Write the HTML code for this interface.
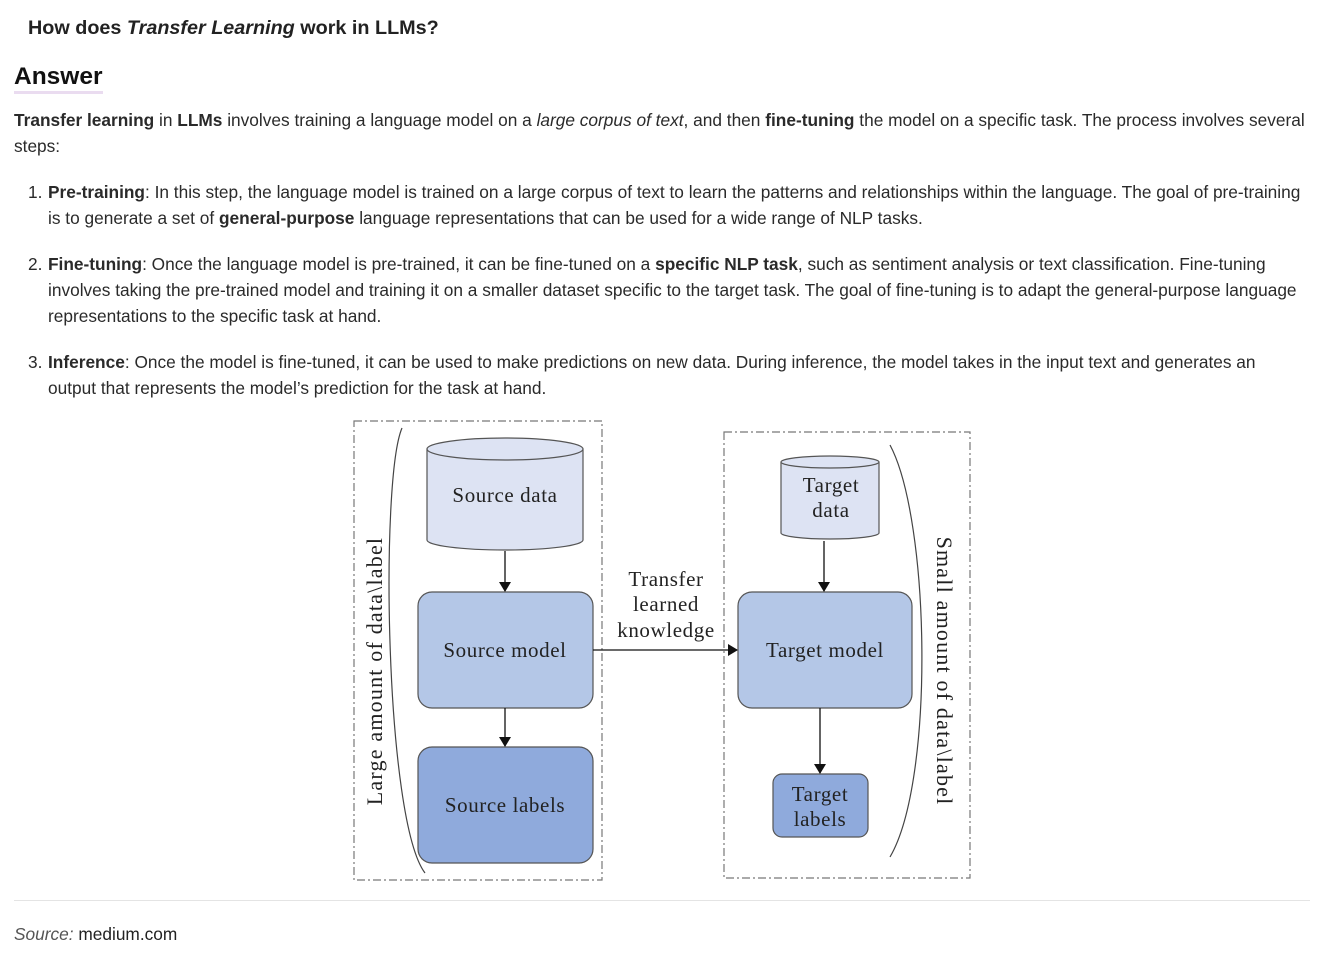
<!DOCTYPE html>
<html><head><meta charset="utf-8"><style>
body{margin:0;width:1332px;height:960px;background:#fff;font-family:"Liberation Sans",Arial,sans-serif;color:#222;position:relative;overflow:hidden}
.t{position:absolute;white-space:nowrap}
p{margin:0}
.body{font-size:17.3px;line-height:26px;color:#2a2a2a}
</style></head><body>
<div class="t" style="left:28px;top:17px;font-size:19.8px;font-weight:bold;color:#222">How does <i>Transfer Learning</i> work in LLMs?</div>
<div class="t" style="left:14px;top:63px;font-size:24.5px;font-weight:bold;color:#111;border-bottom:3px solid #eadcf0;line-height:28px">Answer</div>
<div class="t body" style="left:14px;top:107px"><b>Transfer learning</b> in <b>LLMs</b> involves training a language model on a <i>large corpus of text</i>, and then <b>fine-tuning</b> the model on a specific task. The process involves several<br>steps:</div>
<div class="t body" style="left:28px;top:179px">1.</div>
<div class="t body" style="left:48px;top:179px"><b>Pre-training</b>: In this step, the language model is trained on a large corpus of text to learn the patterns and relationships within the language. The goal of pre-training<br>is to generate a set of <b>general-purpose</b> language representations that can be used for a wide range of NLP tasks.</div>
<div class="t body" style="left:28px;top:251px">2.</div>
<div class="t body" style="left:48px;top:251px"><b>Fine-tuning</b>: Once the language model is pre-trained, it can be fine-tuned on a <b>specific NLP task</b>, such as sentiment analysis or text classification. Fine-tuning<br>involves taking the pre-trained model and training it on a smaller dataset specific to the target task. The goal of fine-tuning is to adapt the general-purpose language<br>representations to the specific task at hand.</div>
<div class="t body" style="left:28px;top:349px">3.</div>
<div class="t body" style="left:48px;top:349px"><b>Inference</b>: Once the model is fine-tuned, it can be used to make predictions on new data. During inference, the model takes in the input text and generates an<br>output that represents the model’s prediction for the task at hand.</div>

<svg style="position:absolute;left:0;top:0" width="1332" height="960" font-family="'Liberation Serif',serif" font-size="21" letter-spacing="0.6" fill="#222">
<defs><marker id="a" markerWidth="10" markerHeight="12" refX="9" refY="6" orient="auto" markerUnits="userSpaceOnUse"><path d="M0,0 L10,6 L0,12z" fill="#111"/></marker></defs>
<g fill="none" stroke="#777" stroke-width="1.2" stroke-dasharray="8,3,2,3">
<rect x="354" y="421" width="248" height="459"/>
<rect x="724" y="432" width="246" height="446"/>
</g>
<g fill="none" stroke="#444" stroke-width="1.2">
<path d="M402,428 C380,480 385,820 425,873"/>
<path d="M890,445 C930,520 935,780 890,857"/>
</g>
<g stroke="#555" stroke-width="1.2">
<path d="M427,449 L427,540 A78,10 0 0 0 583,540 L583,449" fill="#dde3f3"/>
<ellipse cx="505" cy="449" rx="78" ry="11" fill="#dde3f3"/>
<path d="M781,462 L781,533 A49,6 0 0 0 879,533 L879,462" fill="#dde3f3"/>
<ellipse cx="830" cy="462" rx="49" ry="6" fill="#dde3f3"/>
<rect x="418" y="592" width="175" height="116" rx="14" fill="#b4c7e7"/>
<rect x="418" y="747" width="175" height="116" rx="14" fill="#8faadc"/>
<rect x="738" y="592" width="174" height="116" rx="14" fill="#b4c7e7"/>
<rect x="773" y="774" width="95" height="63" rx="9" fill="#8faadc"/>
</g>
<g stroke="#111" stroke-width="1.3" marker-end="url(#a)">
<line x1="505" y1="551" x2="505" y2="591"/>
<line x1="505" y1="708" x2="505" y2="746"/>
<line x1="593" y1="650" x2="737" y2="650"/>
<line x1="824" y1="541" x2="824" y2="591"/>
<line x1="820" y1="708" x2="820" y2="773"/>
</g>
<g text-anchor="middle">
<text x="505" y="502">Source data</text>
<text x="831" y="492">Target</text>
<text x="831" y="517">data</text>
<text x="505" y="657">Source model</text>
<text x="825" y="657">Target model</text>
<text x="505" y="812">Source labels</text>
<text x="820" y="801">Target</text>
<text x="820" y="826">labels</text>
<text x="666" y="586">Transfer</text>
<text x="666" y="611">learned</text>
<text x="666" y="637">knowledge</text>
<text transform="translate(382,671) rotate(-90)" font-size="22" letter-spacing="1.2">Large amount of data\label</text>
<text transform="translate(937,671) rotate(90)" font-size="22" letter-spacing="1.2">Small amount of data\label</text>
</g>
</svg>
<div style="position:absolute;left:14px;top:900px;width:1296px;height:1px;background:#e4e4e4"></div>
<div class="t" style="left:14px;top:924px;font-size:17.3px;color:#222"><i style="color:#555">Source:</i> medium.com</div>
</body></html>
